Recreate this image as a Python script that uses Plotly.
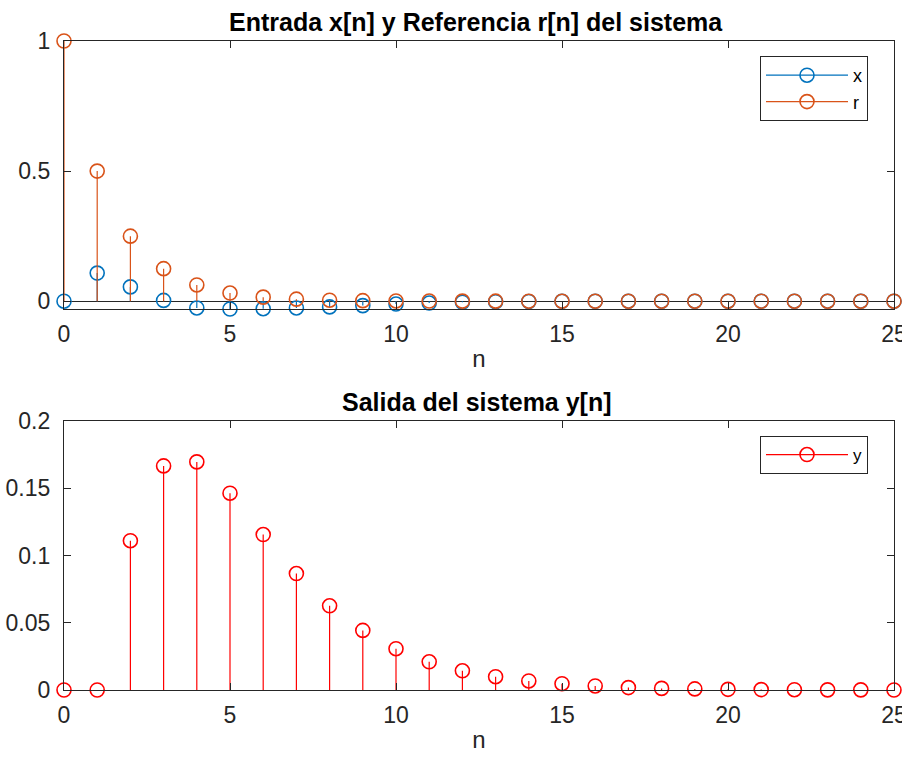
import plotly.graph_objects as go

n = list(range(26))
x_vals = [0.0, 0.108, 0.055, 0.003, -0.026, -0.030, -0.029, -0.026, -0.022, -0.017,
          -0.011, -0.007, -0.004, -0.002, -0.001, -0.0005, -0.0002, 0.0, 0.0, 0.0,
          0.0, 0.0, 0.0, 0.0, 0.0, 0.0]
r_vals = [1.0, 0.5, 0.25, 0.125, 0.0625, 0.03125, 0.0156, 0.0078, 0.0039, 0.002,
          0.001, 0.0005, 0.0002, 0.0001, 0.0, 0.0, 0.0, 0.0, 0.0, 0.0,
          0.0, 0.0, 0.0, 0.0, 0.0, 0.0]
y_vals = [0.0, 0.0, 0.111, 0.1666, 0.1696, 0.1463, 0.1156, 0.0866, 0.0626, 0.0443,
          0.0307, 0.021, 0.0143, 0.0099, 0.0067, 0.0047, 0.003, 0.0018, 0.0012, 0.0008,
          0.0005, 0.0003, 0.0002, 0.0001, 0.0001, 0.0]

BLUE = "#0072BD"
ORANGE = "#D95319"
RED = "#FF0000"
AX = "#262626"
FONT = "Liberation Sans, Arial, Helvetica, sans-serif"


def stems(xs, ys):
    sx, sy = [], []
    for a, b in zip(xs, ys):
        sx += [a, a, None]
        sy += [0, b, None]
    return sx, sy


fig = go.Figure()


def add_series(xs, ys, color, name, xa, ya, legend):
    sx, sy = stems(xs, ys)
    fig.add_trace(go.Scatter(x=sx, y=sy, mode="lines", line=dict(color=color, width=1.2),
                             xaxis=xa, yaxis=ya, showlegend=False, hoverinfo="skip",
                             cliponaxis=False))
    fig.add_trace(go.Scatter(x=xs, y=ys, mode="markers",
                             marker=dict(symbol="circle-open", size=14, color=color,
                                         line=dict(width=1.6, color=color)),
                             xaxis=xa, yaxis=ya, showlegend=False, cliponaxis=False))
    fig.add_trace(go.Scatter(x=[None], y=[None], mode="lines+markers", name=name,
                             line=dict(color=color, width=1.2),
                             marker=dict(symbol="circle-open", size=14, color=color,
                                         line=dict(width=1.6, color=color)),
                             xaxis=xa, yaxis=ya, legend=legend))


add_series(n, x_vals, BLUE, "x", "x", "y", "legend")
add_series(n, r_vals, ORANGE, "r", "x", "y", "legend")
add_series(n, y_vals, RED, "y", "x2", "y2", "legend2")

axis_common = dict(
    showline=True, linecolor=AX, linewidth=1.3, mirror="allticks",
    ticks="inside", ticklen=7, tickwidth=1.2, tickcolor=AX, automargin=False,
    showgrid=False, tickfont=dict(family=FONT, size=23, color=AX),
)
xlabel = dict(text="n", font=dict(family=FONT, size=24, color=AX), standoff=4)

# Figure is slightly wider than the 902px window so the last tick label ("25")
# is drawn and then cut by the window edge, as in the reference.
W, H = 912, 757
L, R, T, B = 64, 18, 41, 67
plot_w = W - L - R
plot_h = H - T - B


def px_x(p):
    return (p - L) / plot_w


def px_y(p):
    return (H - B - p) / plot_h


fig.update_layout(
    width=W, height=H,
    paper_bgcolor="white", plot_bgcolor="white",
    margin=dict(l=L, r=R, t=T, b=B),
    font=dict(family=FONT, color=AX),
    xaxis=dict(domain=[0, 1], anchor="y", range=[0, 25], tickvals=[0, 5, 10, 15, 20, 25],
               title=xlabel, zeroline=False, ticklabelstandoff=4, **axis_common),
    yaxis=dict(domain=[px_y(309), 1], anchor="x", range=[-0.030, 1], tickvals=[0, 0.5, 1],
               ticktext=["0", "0.5", "1"], zeroline=True, zerolinecolor=AX, zerolinewidth=1,
               ticklabelstandoff=8, **axis_common),
    xaxis2=dict(domain=[0, 1], anchor="y2", range=[0, 25], tickvals=[0, 5, 10, 15, 20, 25],
                title=xlabel, zeroline=False, ticklabelstandoff=4, **axis_common),
    yaxis2=dict(domain=[0, px_y(421)], anchor="x2", range=[0, 0.2],
                tickvals=[0, 0.05, 0.1, 0.15, 0.2],
                ticktext=["0", "0.05", "0.1", "0.15", "0.2"], zeroline=False,
                ticklabelstandoff=8, **axis_common),
    legend=dict(x=px_x(868), y=px_y(56), xanchor="right", yanchor="top",
                bgcolor="white", bordercolor=AX, borderwidth=1,
                font=dict(family=FONT, size=18, color="black"), itemwidth=82),
    legend2=dict(x=px_x(868), y=px_y(436), xanchor="right", yanchor="top",
                 bgcolor="white", bordercolor=AX, borderwidth=1,
                 font=dict(family=FONT, size=17, color="black"), itemwidth=82),
    annotations=[
        dict(text="<b>Entrada x[n] y Referencia r[n] del sistema</b>", xref="paper", yref="paper",
             x=px_x(476), y=1, yshift=3, xanchor="center", yanchor="bottom", showarrow=False,
             font=dict(family=FONT, size=25, color="black")),
        dict(text="<b>Salida del sistema y[n]</b>", xref="paper", yref="paper",
             x=px_x(477), y=px_y(421), yshift=3, xanchor="center", yanchor="bottom",
             showarrow=False, font=dict(family=FONT, size=25, color="black")),
    ],
)

fig.write_html(
    "out.html",
    config={"displayModeBar": False},
    post_script="document.body.style.margin='0px';document.body.style.overflow='hidden';",
)
